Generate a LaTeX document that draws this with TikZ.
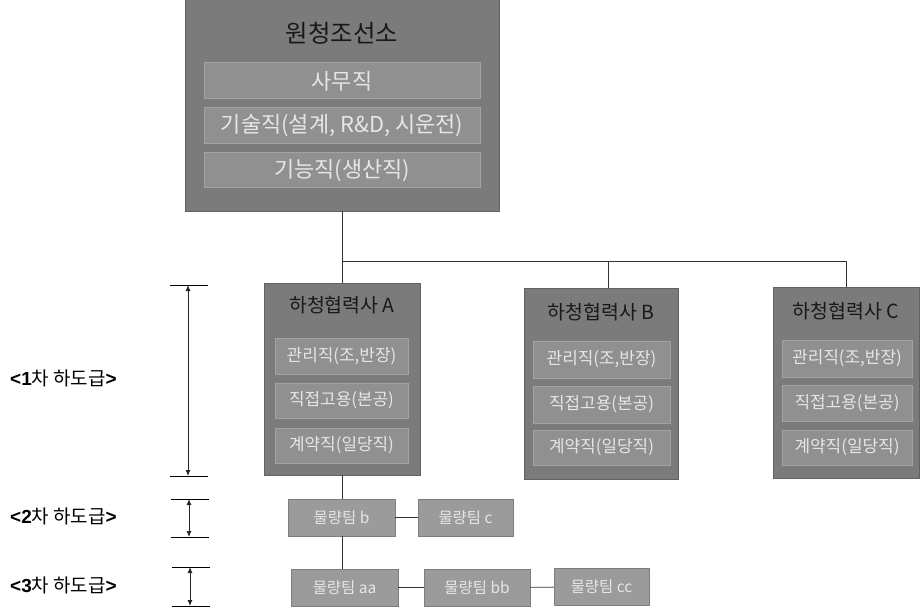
\documentclass[tikz,border=0pt]{standalone}
\usepackage{fontspec}
\setmainfont{Liberation Sans}
\newfontfamily\kr{Noto Sans CJK KR}
\newfontfamily\arl{Liberation Sans}
\usetikzlibrary{arrows.meta}
\definecolor{outerg}{HTML}{7B7B7B}
\definecolor{innerg}{HTML}{909090}
\definecolor{innerb}{HTML}{A3A3A3}
\definecolor{teamg}{HTML}{9B9B9B}
\definecolor{teamb}{HTML}{7E7E7E}
\definecolor{txtw}{HTML}{E6E6E6}
\tikzset{
  outerbox/.style={draw=outerg!80!black, line width=0.6bp, fill=outerg, rectangle, inner sep=0pt},
  innerbox/.style={draw=innerb, line width=1bp, fill=innerg, rectangle, inner sep=0pt, text=txtw, font=\kr\fontsize{#1}{#1}\selectfont},
  titletxt/.style={text=black!90, inner sep=0pt, font=\kr\fontsize{#1}{#1}\selectfont},
  teambox/.style={draw=teamb, line width=0.8bp, fill=teamg, rectangle, inner sep=0pt, minimum height=37bp, text=txtw, font=\kr\fontsize{15.5}{15.5}\selectfont},
  conn/.style={draw=black!80, line width=0.9bp},
  dimline/.style={draw=black, line width=0.9bp},
  dimarrow/.style={draw=black!85, line width=0.9bp, {Latex[length=6bp,width=5bp]}-{Latex[length=6bp,width=5bp]}},
  lvl/.style={anchor=west, inner sep=0pt, font=\fontsize{19}{19}\selectfont},
}
\begin{document}
\begin{tikzpicture}[x=1bp,y=-1bp]
\useasboundingbox (0,0) rectangle (921,609);
% top box
\node[outerbox, minimum width=314bp, minimum height=212bp] (top) at (342,105) {};
\node[titletxt=24.5] (toptitle) at (342,33) {원청조선소};
\node[innerbox=22, minimum width=276bp, minimum height=36bp] (t1) at (342,81) {사무직};
\node[innerbox=22, minimum width=276bp, minimum height=36bp] (t2) at (342,126) {기술직(설계, R\&D, 시운전)};
\node[innerbox=22, minimum width=276bp, minimum height=35bp] (t3) at (342,170.5) {기능직(생산직)};

% subcontractor A
\node[outerbox, minimum width=156bp, minimum height=192bp] (A) at (342,379) {};
\node[titletxt=19.5] (Atitle) at (342,305) {하청협력사 A};
\node[innerbox=17, minimum width=133bp, minimum height=36bp] (A1) at (341.5,356) {관리직(조,반장)};
\node[innerbox=17, minimum width=133bp, minimum height=35bp] (A2) at (341.5,400.5) {직접고용(본공)};
\node[innerbox=17, minimum width=133bp, minimum height=35bp] (A3) at (341.5,445.5) {계약직(일당직)};

% subcontractor B
\node[outerbox, minimum width=154bp, minimum height=191bp] (B) at (601,383.5) {};
\node[titletxt=19.5] (Btitle) at (601,312) {하청협력사 B};
\node[innerbox=17, minimum width=137bp, minimum height=37bp] (B1) at (601.5,359.5) {관리직(조,반장)};
\node[innerbox=17, minimum width=137bp, minimum height=37bp] (B2) at (601.5,404.5) {직접고용(본공)};
\node[innerbox=17, minimum width=137bp, minimum height=35bp] (B3) at (601.5,447.5) {계약직(일당직)};

% subcontractor C
\node[outerbox, minimum width=146bp, minimum height=191bp] (C) at (846,382.5) {};
\node[titletxt=19.5] (Ctitle) at (846,311) {하청협력사 C};
\node[innerbox=17, minimum width=130bp, minimum height=37bp] (C1) at (847,358.5) {관리직(조,반장)};
\node[innerbox=17, minimum width=130bp, minimum height=36bp] (C2) at (847,403) {직접고용(본공)};
\node[innerbox=17, minimum width=130bp, minimum height=35bp] (C3) at (847,447.5) {계약직(일당직)};

% teams
\node[teambox, minimum width=107bp] (tb) at (341.5,517.5) {물량팀 b};
\node[teambox, minimum width=95bp] (tc) at (465.5,517.5) {물량팀 c};
\node[teambox, minimum width=107bp] (taa) at (344.5,587.5) {물량팀 aa};
\node[teambox, minimum width=106bp] (tbb) at (477,587.5) {물량팀 bb};
\node[teambox, minimum width=95bp] (tcc) at (601.5,587) {물량팀 cc};

% connectors
\coordinate (hub) at (342,261);
\coordinate (hubB) at (608,261);
\coordinate (hubC) at (846,261);
\draw[conn] (top.south -| hub) -- (hub) -- (hubC);
\draw[conn] (hub) -- (A.north -| hub);
\draw[conn] (hubB) -- (B.north -| hubB);
\draw[conn] (hubC) -- (C.north -| hubC);
\draw[conn] (A.south -| hub) -- (tb.north -| hub);
\draw[conn] (tb) -- (tc);
\draw[conn] (tb.south -| hub) -- (taa.north -| hub);
\draw[conn] (taa) -- (tbb);
\draw[conn] (tbb) -- (tcc);

% level markers
\coordinate (d1a) at (170,285); \coordinate (d1b) at (208,285);
\coordinate (d1c) at (170,476); \coordinate (d1d) at (208,476);
\draw[dimline] (d1a) -- (d1b);
\draw[dimline] (d1c) -- (d1d);
\coordinate (a1t) at (188,285); \coordinate (a1b) at (188,476);
\draw[dimarrow] (a1t) -- (a1b);

\coordinate (d2a) at (171,499); \coordinate (d2b) at (209,499);
\coordinate (d2c) at (171,537); \coordinate (d2d) at (209,537);
\draw[dimline] (d2a) -- (d2b);
\draw[dimline] (d2c) -- (d2d);
\coordinate (a2t) at (189,499); \coordinate (a2b) at (189,537);
\draw[dimarrow] (a2t) -- (a2b);

\coordinate (d3a) at (172,567); \coordinate (d3b) at (210,567);
\coordinate (d3c) at (172,606); \coordinate (d3d) at (210,606);
\draw[dimline] (d3a) -- (d3b);
\draw[dimline] (d3c) -- (d3d);
\coordinate (a3t) at (190,567); \coordinate (a3b) at (190,606);
\draw[dimarrow] (a3t) -- (a3b);

\node[lvl] (l1) at (10,378) {\textbf{<1}{\kr 차 하도급}\textbf{>}};
\node[lvl] (l2) at (10,516) {\textbf{<2}{\kr 차 하도급}\textbf{>}};
\node[lvl] (l3) at (10,585) {\textbf{<3}{\kr 차 하도급}\textbf{>}};
\end{tikzpicture}
\end{document}
